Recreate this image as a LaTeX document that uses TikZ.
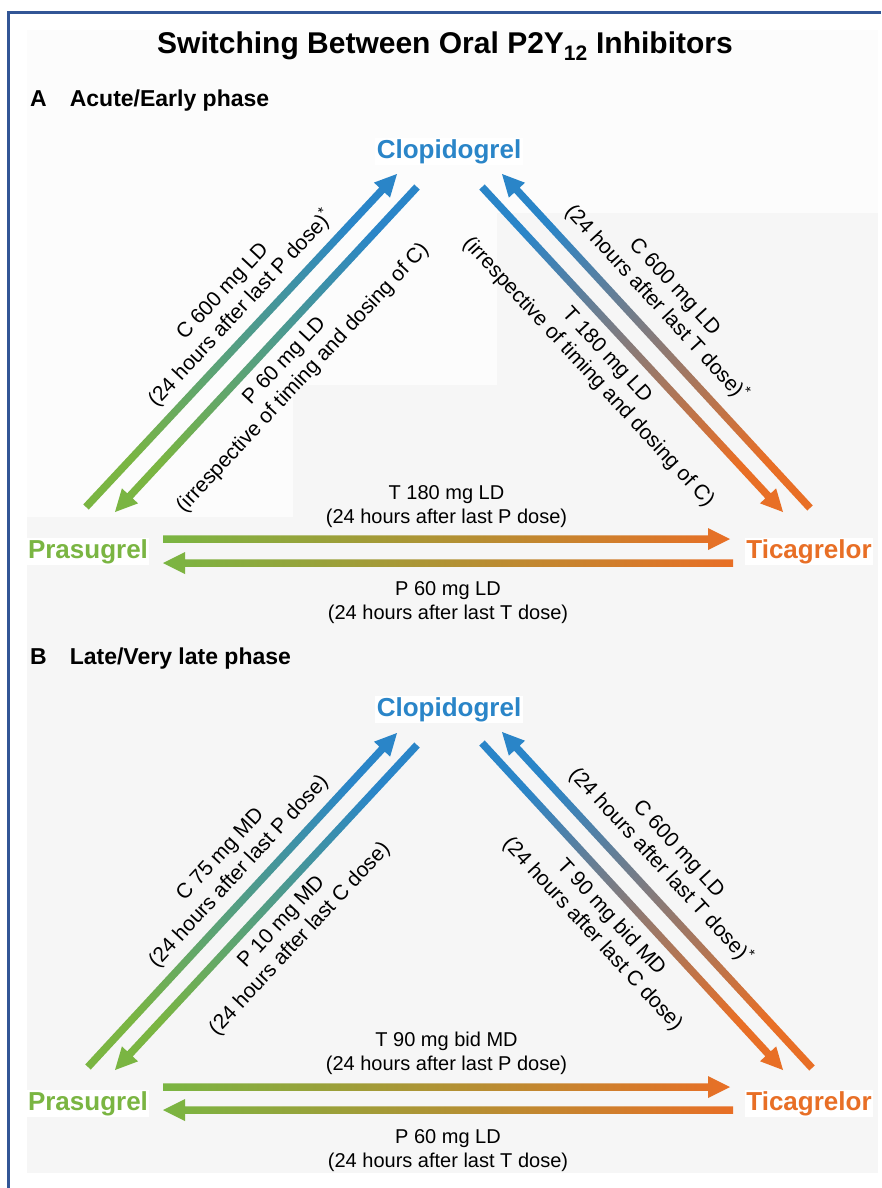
\documentclass[tikz,border=0pt]{standalone}
\usepackage{fontspec}
\setmainfont{Liberation Sans}
\usetikzlibrary{calc}

\definecolor{prasgreen}{RGB}{122,181,66}
\definecolor{clopblue}{RGB}{42,133,200}
\definecolor{ticorange}{RGB}{232,111,38}
\definecolor{frameblue}{RGB}{50,86,150}
\definecolor{panelgray}{RGB}{246,246,246}
\definecolor{paleback}{RGB}{252,252,252}

% shaded arrow: tail, head, tail colour, head colour
\newcommand{\gradarrow}[4]{%
  \pgfmathanglebetweenpoints{\pgfpointanchor{#1}{center}}{\pgfpointanchor{#2}{center}}%
  \pgfmathsetmacro{\shadeang}{\pgfmathresult+90}%
  \shade[left color=#3, right color=#4, shading angle=\shadeang]
    ($(#1)!3.75pt!90:(#2)$) -- ($(#2)!22pt!(#1)!3.75pt!-90:(#1)$)
    -- ($(#2)!22pt!(#1)!11pt!-90:(#1)$) -- (#2)
    -- ($(#2)!22pt!(#1)!11pt!90:(#1)$) -- ($(#2)!22pt!(#1)!3.75pt!90:(#1)$)
    -- ($(#1)!3.75pt!-90:(#2)$) -- cycle;
}

\begin{document}
\begin{tikzpicture}[x=1pt,y=-1pt,
    lbl/.style={font=\fontsize{21}{25}\selectfont, align=center, inner sep=0pt},
    hlbl/.style={font=\fontsize{20}{24}\selectfont, align=center, inner sep=0pt},
    drug/.style={font=\fontsize{26}{30}\selectfont\bfseries, inner sep=1.5pt, fill=white, anchor=base},
    phase/.style={font=\fontsize{23}{27}\selectfont\bfseries, inner sep=0pt, anchor=base west}]
    \useasboundingbox (0,0) rectangle (881,1188);

    % background and frame
    \fill[paleback] (27,30) rectangle (878,517);
    \fill[panelgray] (27,517) rectangle (878,1173);
    \fill[panelgray] (293,385) rectangle (878,517);
    \fill[panelgray] (497,213) rectangle (878,385);
    \draw[frameblue, line width=3pt] (8,1188) -- (8,13) -- (881,13);

    \node[font=\fontsize{30}{36}\selectfont\bfseries, inner sep=0pt, anchor=base] (title) at (445,54)
        {Switching Between Oral P2Y\textsubscript{12} Inhibitors};

    % A: acute/early phase
    \node[phase] (phA) at (30,107) {A\hspace{23pt}Acute/Early phase};
    \node[drug, text=clopblue] (clop1) at (449,158) {Clopidogrel};
    \node[drug, text=prasgreen] (pras1) at (88,558) {Prasugrel};
    \node[drug, text=ticorange] (tica1) at (809,558) {Ticagrelor};

    \coordinate (pc1t) at (86,507);  \coordinate (pc1h) at (397,174);
    \coordinate (cp1t) at (417,187); \coordinate (cp1h) at (115,512);
    \coordinate (tc1t) at (810,508); \coordinate (tc1h) at (502,174);
    \coordinate (ct1t) at (482,187); \coordinate (ct1h) at (783,512);
    \coordinate (pt1t) at (163,539); \coordinate (pt1h) at (730,539);
    \coordinate (tp1t) at (733,563); \coordinate (tp1h) at (163,563);

    \gradarrow{pc1t}{pc1h}{prasgreen}{clopblue}
    \gradarrow{cp1t}{cp1h}{clopblue}{prasgreen}
    \gradarrow{tc1t}{tc1h}{ticorange}{clopblue}
    \gradarrow{ct1t}{ct1h}{clopblue}{ticorange}
    \gradarrow{pt1t}{pt1h}{prasgreen}{ticorange}
    \gradarrow{tp1t}{tp1h}{ticorange}{prasgreen}

    \path (pc1t) -- (pc1h) node[lbl, sloped, pos=.55, above=11.6pt]
        {C 600 mg LD\\(24 hours after last P dose)\textsuperscript{*}};
    \path (cp1t) -- (cp1h) node[lbl, sloped, pos=.49, below=12pt]
        {P 60 mg LD\\(irrespective of timing and dosing of C)};
    \path (tc1t) -- (tc1h) node[lbl, sloped, pos=.56, above=15pt]
        {C 600 mg LD\\(24 hours after last T dose)\textsuperscript{*}};
    \path (ct1t) -- (ct1h) node[lbl, sloped, pos=.47, below=13.5pt]
        {T 180 mg LD\\(irrespective of timing and dosing of C)};
    \path (pt1t) -- (pt1h) node[hlbl, midway, above=11pt]
        {T 180 mg LD\\(24 hours after last P dose)};
    \path (tp1t) -- (tp1h) node[hlbl, midway, below=18pt]
        {P 60 mg LD\\(24 hours after last T dose)};

    % B: late/very late phase
    \node[phase] (phB) at (30,664) {B\hspace{23pt}Late/Very late phase};
    \node[drug, text=clopblue] (clop2) at (449,716) {Clopidogrel};
    \node[drug, text=prasgreen] (pras2) at (88,1110) {Prasugrel};
    \node[drug, text=ticorange] (tica2) at (809,1110) {Ticagrelor};

    \coordinate (pc2t) at (88,1067);  \coordinate (pc2h) at (397,733);
    \coordinate (cp2t) at (417,745);  \coordinate (cp2h) at (115,1070);
    \coordinate (tc2t) at (812,1068); \coordinate (tc2h) at (502,732);
    \coordinate (ct2t) at (482,743);  \coordinate (ct2h) at (783,1070);
    \coordinate (pt2t) at (163,1087); \coordinate (pt2h) at (730,1087);
    \coordinate (tp2t) at (733,1110); \coordinate (tp2h) at (163,1110);

    \gradarrow{pc2t}{pc2h}{prasgreen}{clopblue}
    \gradarrow{cp2t}{cp2h}{clopblue}{prasgreen}
    \gradarrow{tc2t}{tc2h}{ticorange}{clopblue}
    \gradarrow{ct2t}{ct2h}{clopblue}{ticorange}
    \gradarrow{pt2t}{pt2h}{prasgreen}{ticorange}
    \gradarrow{tp2t}{tp2h}{ticorange}{prasgreen}

    \path (pc2t) -- (pc2h) node[lbl, sloped, pos=.54, above=11.6pt]
        {C 75 mg MD\\(24 hours after last P dose)};
    \path (cp2t) -- (cp2h) node[lbl, sloped, pos=.5, below=12pt]
        {P 10 mg MD\\(24 hours after last C dose)};
    \path (tc2t) -- (tc2h) node[lbl, sloped, pos=.55, above=15pt]
        {C 600 mg LD\\(24 hours after last T dose)\textsuperscript{*}};
    \path (ct2t) -- (ct2h) node[lbl, sloped, pos=.485, below=13.5pt]
        {T 90 mg bid MD\\(24 hours after last C dose)};
    \path (pt2t) -- (pt2h) node[hlbl, midway, above=12pt]
        {T 90 mg bid MD\\(24 hours after last P dose)};
    \path (tp2t) -- (tp2h) node[hlbl, midway, below=19pt]
        {P 60 mg LD\\(24 hours after last T dose)};
\end{tikzpicture}
\end{document}
